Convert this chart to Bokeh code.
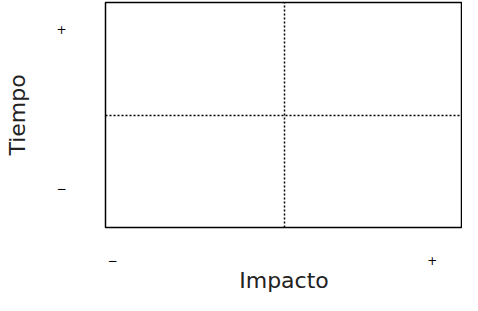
from bokeh.plotting import figure
from bokeh.models import Range1d, FixedTicker
from bokeh.embed import file_html
from bokeh.resources import INLINE

# Quadrant chart data
x_label = "Impacto"
y_label = "Tiempo"
x_tick_values = [0.04, 1.83]
x_tick_labels = ["\u2212", "+"]
y_tick_values = [0.35, 1.76]
y_tick_labels = ["\u2212", "+"]
divider = [1]

p = figure(width=462, height=295, output_backend="svg", toolbar_location=None,
           x_range=Range1d(0, 2), y_range=Range1d(0, 2),
           min_border_left=105, min_border_right=0, min_border_top=2, min_border_bottom=0)
p.background_fill_color = "white"
p.border_fill_color = "white"
p.outline_line_color = "black"
p.outline_line_width = 1.5

FONT = "DejaVu Sans"

p.xaxis.ticker = FixedTicker(ticks=x_tick_values)
p.xaxis.major_label_overrides = {v: l for v, l in zip(x_tick_values, x_tick_labels)}
p.yaxis.ticker = FixedTicker(ticks=y_tick_values)
p.yaxis.major_label_overrides = {v: l for v, l in zip(y_tick_values, y_tick_labels)}

for ax in (p.xaxis, p.yaxis):
    ax.axis_line_color = None
    ax.major_tick_line_color = None
    ax.minor_tick_line_color = None
    ax.major_label_text_font = FONT
    ax.major_label_text_font_size = "12px"
    ax.major_label_text_color = "black"
    ax.axis_label_text_font = FONT
    ax.axis_label_text_font_size = "22px"
    ax.axis_label_text_font_style = "normal"
    ax.axis_label_text_color = "#222222"

p.xaxis.axis_label = x_label
p.yaxis.axis_label = y_label
p.xaxis.major_label_standoff = 22
p.xaxis.axis_label_standoff = 0
p.yaxis.major_label_standoff = 33
p.yaxis.axis_label_standoff = 23
p.yaxis.major_label_orientation = "horizontal"

p.xgrid.ticker = FixedTicker(ticks=divider)
p.ygrid.ticker = FixedTicker(ticks=divider)
for g in (p.xgrid, p.ygrid):
    g.grid_line_color = "black"
    g.grid_line_width = 1.5
    g.grid_line_dash = "2 2"
    g.grid_line_alpha = 1.0

open("out.html", "w").write(file_html(p, INLINE))
